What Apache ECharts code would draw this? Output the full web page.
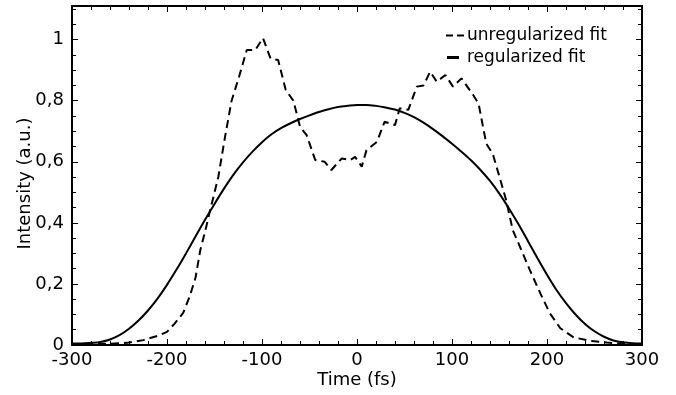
<!DOCTYPE html>
<html><head><meta charset="utf-8">
<script src="https://cdn.jsdelivr.net/npm/echarts@6/dist/echarts.min.js"></script>
<style>html,body{margin:0;padding:0;background:#fff}#c{width:676px;height:395px}</style>
</head><body><div id="c"></div>
<script>
var seriesNames = ['unregularized fit', 'regularized fit'];
var xTicks = [-300, -200, -100, 0, 100, 200, 300];
var yTicks = [0, 0.2, 0.4, 0.6, 0.8, 1];
// unregularized fit: time (fs) and intensity
var dashedT = [-300,-280,-260,-250,-242,-225,-210,-200,-192,-183,-176,-170,-165,-160,-155,-146,-139,-132,-124,-116,-107,-99,-91,-83,-75,-67,-60,-53,-44,-34,-27,-16,-7,-2,5,10,21,29,40,45,54,63,70,77,84,93,101,110,122,128,136,143,150,157,164,173,182,193,203,214,228,245,263,280,300];
var dashedI = [0.003,0.003,0.004,0.006,0.007,0.016,0.03,0.043,0.07,0.105,0.16,0.22,0.31,0.37,0.436,0.55,0.68,0.80,0.88,0.966,0.966,1.005,0.938,0.933,0.835,0.80,0.715,0.687,0.606,0.60,0.573,0.611,0.606,0.616,0.584,0.638,0.665,0.731,0.72,0.775,0.77,0.846,0.85,0.895,0.862,0.884,0.846,0.873,0.82,0.79,0.66,0.625,0.55,0.474,0.376,0.311,0.245,0.169,0.104,0.055,0.025,0.014,0.008,0.003,0.002];
// regularized fit
var solidT = [-300,-290,-280,-270,-260,-250,-240,-230,-220,-210,-200,-190,-180,-170,-160,-150,-140,-130,-120,-110,-100,-90,-80,-70,-60,-50,-40,-30,-20,-10,0,10,20,30,40,50,60,70,80,90,100,110,120,130,140,150,160,170,180,190,200,210,220,230,240,250,260,270,280,290,300];
var solidI = [0.005,0.005,0.007,0.010,0.018,0.032,0.053,0.080,0.113,0.152,0.197,0.247,0.300,0.355,0.410,0.462,0.512,0.558,0.598,0.633,0.664,0.690,0.710,0.726,0.740,0.752,0.763,0.772,0.779,0.783,0.786,0.786,0.783,0.778,0.771,0.760,0.746,0.728,0.707,0.684,0.659,0.633,0.605,0.573,0.537,0.495,0.447,0.395,0.340,0.284,0.230,0.180,0.137,0.100,0.069,0.045,0.027,0.015,0.009,0.006,0.005];

function pairs(t, v){ var o=[]; for(var i=0;i<t.length;i++) o.push([t[i], v[i]]); return o; }
var font = 'DejaVu Sans';
function yfmt(v){ return String(Math.round(v*10)/10).replace('.', ','); }
var chart = echarts.init(document.getElementById('c'), null, {renderer:'canvas'});
var xBase = {type:'value', min:xTicks[0], max:xTicks[xTicks.length-1], interval:100,
  axisLine:{show:true, onZero:false, lineStyle:{color:'#000', width:2}},
  axisTick:{show:true, inside:true, length:6, lineStyle:{color:'#000', width:1}},
  minorTick:{show:true, splitNumber:5, length:4, lineStyle:{color:'#000', width:1}},
  splitLine:{show:false}};
var yBase = {type:'value', min:yTicks[0], max:1.11, interval:0.2,
  axisLine:{show:true, onZero:false, lineStyle:{color:'#000', width:2}},
  axisTick:{show:true, inside:true, length:6, lineStyle:{color:'#000', width:1}},
  minorTick:{show:true, splitNumber:4, length:4, lineStyle:{color:'#000', width:1}},
  splitLine:{show:false}};
chart.setOption({
  animation:false,
  backgroundColor:'#fff',
  grid:{left:72, right:34, top:6, bottom:50, containLabel:false, outerBoundsMode:'none'},
  legend:{orient:'vertical', left:441, top:22, itemWidth:18, itemHeight:12, itemGap:5,
    textStyle:{fontFamily:font, fontSize:17, color:'#000', padding:[0,0,0,-2]},
    data:[
      {name:seriesNames[0], icon:'path://M0,0h7v2.2h-7z M11,0h7v2.2h-7z', itemStyle:{color:'#000'}},
      {name:seriesNames[1], icon:'path://M1,0h12v3h-12z M0,1.5h0.01v0.01h-0.01z M18,1.5h0.01v0.01h-0.01z', itemStyle:{color:'#000'}}
    ]},
  xAxis:[
    Object.assign({}, xBase, {position:'bottom', name:'Time (fs)', nameLocation:'middle', nameGap:26,
      nameMoveOverlap:false,
      nameTextStyle:{fontFamily:font, fontSize:18, color:'#000'},
      axisLabel:{show:true, margin:6, fontFamily:font, fontSize:18, color:'#000',
        formatter:function(v){return String(v);}}}),
    Object.assign({}, xBase, {position:'top', axisLabel:{show:false}})
  ],
  yAxis:[
    Object.assign({}, yBase, {position:'left', name:'Intensity (a.u.)', nameLocation:'middle', nameGap:38,
      nameMoveOverlap:false,
      nameTextStyle:{fontFamily:font, fontSize:18, color:'#000', padding:[0,16,0,0]},
      axisLabel:{show:true, margin:8, fontFamily:font, fontSize:18, color:'#000', showMaxLabel:false,
        formatter:function(v){ return Math.abs(v*5-Math.round(v*5))<1e-6 && v <= 1 ? yfmt(v) : ''; }}}),
    Object.assign({}, yBase, {position:'right', axisLabel:{show:false}})
  ],
  series:[
    {name:seriesNames[0], type:'line', data:pairs(dashedT, dashedI), symbol:'none', smooth:false,
      lineStyle:{color:'#000', width:2, type:[8,5]}, itemStyle:{color:'#000'}},
    {name:seriesNames[1], type:'line', data:pairs(solidT, solidI), symbol:'none', smooth:0.3,
      lineStyle:{color:'#000', width:2, type:'solid'}, itemStyle:{color:'#000'}}
  ]
});
</script></body></html>
